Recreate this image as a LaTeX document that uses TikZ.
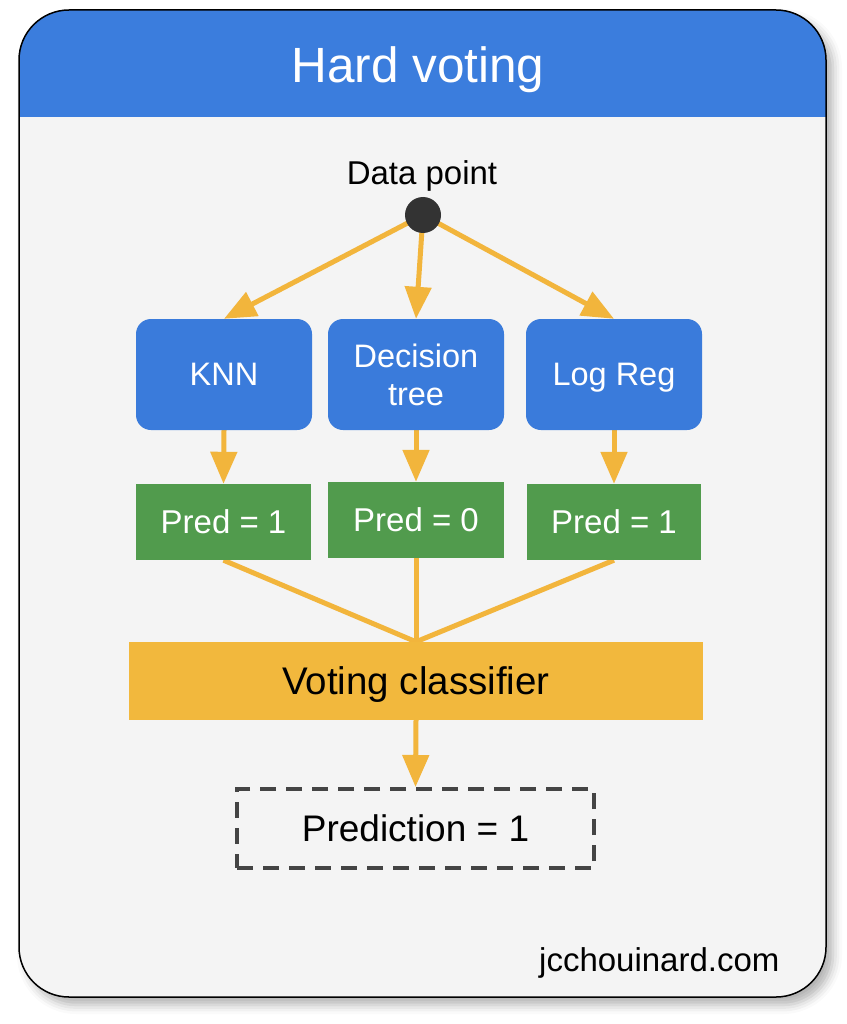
\documentclass[tikz,border=0pt]{standalone}
\usepackage{fontspec}
\setmainfont{Liberation Sans}
\usetikzlibrary{arrows.meta,shadows.blur}
\definecolor{hdrblue}{HTML}{3B7DDD}
\definecolor{boxblue}{HTML}{3A7BDB}
\definecolor{predgreen}{HTML}{519B4D}
\definecolor{voteyellow}{HTML}{F2B83D}
\definecolor{arrowyellow}{HTML}{F2B53C}
\definecolor{panelbg}{HTML}{F4F4F4}
\definecolor{dotgray}{HTML}{333333}
\definecolor{dashgray}{HTML}{444444}
\pgfdeclarelayer{back}
\pgfdeclarelayer{edges}
\pgfsetlayers{back,edges,main}
\tikzset{
  modelbox/.style={fill=boxblue, rounded corners=15pt, minimum width=176pt, minimum height=111pt, inner sep=0pt, text=white, align=center, font=\fontsize{32.5}{38}\selectfont},
  predbox/.style={fill=predgreen, minimum width=175pt, minimum height=76pt, inner sep=0pt, text=white, font=\fontsize{33}{38}\selectfont},
  votebox/.style={fill=voteyellow, minimum width=574pt, minimum height=78pt, inner sep=0pt, text=black, text depth=0pt, font=\fontsize{38.5}{44}\selectfont},
  resultbox/.style={draw=dashgray, line width=4pt, dash pattern=on 16pt off 10pt, minimum width=357pt, minimum height=79pt, inner sep=0pt, text=black, font=\fontsize{37}{44}\selectfont},
  flow/.style={draw=arrowyellow, line width=5pt, -{Triangle[length=32pt,width=26pt]}},
  merge/.style={draw=arrowyellow, line width=5pt},
}
\begin{document}
\begin{tikzpicture}[x=1pt,y=-1pt]
\useasboundingbox (0,0) rectangle (846,1024);
\begin{pgfonlayer}{back}
% panel with shadow
\path[fill=panelbg, rounded corners=50pt, blur shadow={shadow xshift=7pt, shadow yshift=-8pt, shadow blur radius=9pt, shadow opacity=30}] (19,10) rectangle (826,997);
\begin{scope}
  \clip[rounded corners=50pt] (19,10) rectangle (826,997);
  \fill[hdrblue] (19,10) rectangle (826,117);
\end{scope}
\draw[line width=1.5pt, rounded corners=50pt] (19,10) rectangle (826,997);
\end{pgfonlayer}
\node[text=white, text depth=0pt, font=\fontsize{49.5}{56}\selectfont] (title) at (418,65) {Hard voting};

\node[font=\fontsize{33}{38}\selectfont] (dplabel) at (422,176) {Data point};
\node[circle, fill=dotgray, minimum size=36pt, inner sep=0pt] (dp) at (423,215) {};

\node[modelbox] (knn) at (224,374.5) {KNN};
\node[modelbox] (dt) at (416,374.5) {Decision\\tree};
\node[modelbox, text depth=0pt] (lr) at (614,374.5) {Log Reg};

\node[predbox] (p1) at (223.5,522) {Pred = 1};
\node[predbox, minimum width=176pt] (p0) at (416,520) {Pred = 0};
\node[predbox, minimum width=174pt] (p2) at (614,522) {Pred = 1};

\node[votebox] (vote) at (416,681) {Voting classifier};
\node[resultbox] (res) at (415.5,828.5) {Prediction = 1};

\node[anchor=east, font=\fontsize{33}{38}\selectfont] (site) at (783,963) {jcchouinard.com};

\begin{pgfonlayer}{edges}
  \draw[flow] (dp.center) -- (knn.north);
  \draw[flow] (dp.center) -- (dt.north);
  \draw[flow] (dp.center) -- (lr.north);
  \draw[flow] (knn.south) -- (p1.north);
  \draw[flow] (dt.south) -- (p0.north);
  \draw[flow] (lr.south) -- (p2.north);
  \draw[merge] (p1.south) -- (vote.north);
  \draw[merge] (p0.south) -- (vote.north);
  \draw[merge] (p2.south) -- (vote.north);
  \draw[flow] (vote.south) -- (res.north);
\end{pgfonlayer}
\end{tikzpicture}
\end{document}
